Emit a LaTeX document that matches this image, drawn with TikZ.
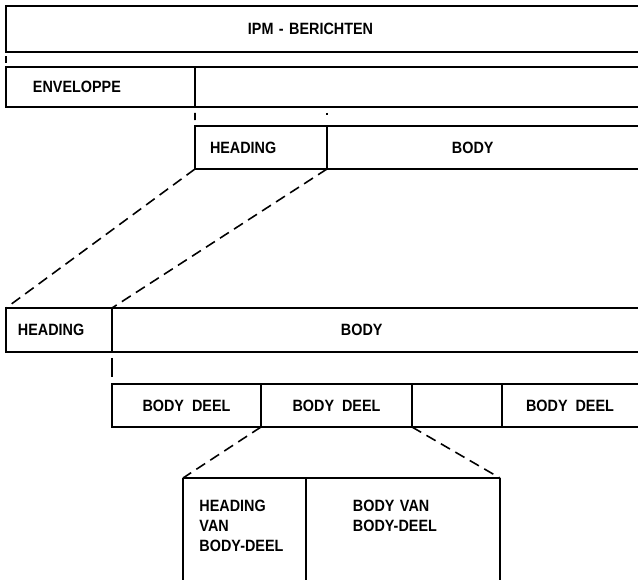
\documentclass[tikz,border=0pt]{standalone}
\usepackage{fontspec}
\setmainfont{Liberation Sans}[WordSpace=2, FakeStretch=0.88]
\begin{document}
\begin{tikzpicture}[x=0.02cm, y=-0.02cm, line width=1.1pt,
  every node/.style={font=\fontsize{9.3}{11.3}\selectfont\bfseries, inner sep=0pt, outer sep=0pt, anchor=north west},
  vak/.style 2 args={minimum width=#1, minimum height=#2},
  stippel/.style={line width=0.9pt, dash pattern=on 6pt off 3.5pt},
  streepje/.style 2 args={line width=0.9pt, dash pattern=on 0pt off #1 on #2 off 40pt}]
\clip (0,0) rectangle (638,579);
\node[vak={12.64cm}{0.92cm},inner xsep=4.84cm,text width=2.96cm,align=left] (ipm) at (6,6) {IPM - BERICHTEN};
\node[draw,vak={3.78cm}{0.8cm},inner xsep=0.54cm,text width=2.7cm,align=left] (env) at (6,67) {ENVELOPPE};
\node[vak={8.86cm}{0.8cm}] (inh) at (195,67) {};
\node[draw,vak={2.64cm}{0.86cm},inner xsep=0.3cm,text width=2.04cm,align=left] (head) at (195,126) {HEADING};
\node[vak={6.22cm}{0.86cm},inner xsep=2.5cm,text width=1.22cm,align=left] (body) at (327,126) {BODY};
\node[draw,vak={2.12cm}{0.88cm},inner xsep=0.24cm,text width=1.64cm,align=left] (head2) at (6,308) {HEADING};
\node[vak={10.52cm}{0.88cm},inner xsep=4.58cm,text width=1.36cm,align=left] (body2) at (112,308) {BODY};
\node[draw,vak={2.98cm}{0.86cm}] (deel1) at (112,384) {BODY DEEL};
\node[draw,vak={3.02cm}{0.86cm}] (deel2) at (261,384) {BODY DEEL};
\node[draw,vak={1.8cm}{0.86cm}] (deel3) at (412,384) {};
\node[vak={2.72cm}{0.86cm}] (deel4) at (502,384) {BODY DEEL};
\node[inner xsep=0.33cm,inner ysep=0.45cm,text width=1.8cm,align=left] (hvb) at (183,478) {HEADING\\VAN\\BODY-DEEL};
\node[inner xsep=0.94cm,inner ysep=0.45cm,text width=2.0cm,align=left] (bvb) at (306,478) {BODY VAN\\BODY-DEEL};
\draw (ipm.north east) -- (ipm.north west) -- (ipm.south west) -- (ipm.south east);
\draw (inh.north west) -- (inh.north east); \draw (inh.south west) -- (inh.south east);
\draw (body.north west) -- (body.north east); \draw (body.south west) -- (body.south east);
\draw (body2.north west) -- (body2.north east); \draw (body2.south west) -- (body2.south east);
\draw (deel4.north east) -- (deel4.north west) -- (deel4.south west) -- (deel4.south east);
\draw (hvb.north west) -- ++(0,110); \draw (hvb.north east) -- ++(0,110); \draw (bvb.north east) -- ++(0,110);
\draw (hvb.north west) -- (bvb.north east);
\draw[streepje={2.3pt}{4pt}] (ipm.south west) -- (env.north west);
\draw[streepje={3.4pt}{4pt}] (env.south east) -- (head.north west);
\draw[streepje={3.4pt}{1.4pt}] (head.north east |- inh.south) -- (head.north east);
\draw[streepje={3.4pt}{10.8pt}] (body2.south west) -- (deel1.north west);
\draw[stippel] (head.south west) -- (head2.north west);
\draw[stippel] (head.south east) -- (body2.north west);
\draw[stippel] (deel2.south west) -- (hvb.north west);
\draw[stippel] (deel3.south west) -- (bvb.north east);
\end{tikzpicture}
\end{document}
